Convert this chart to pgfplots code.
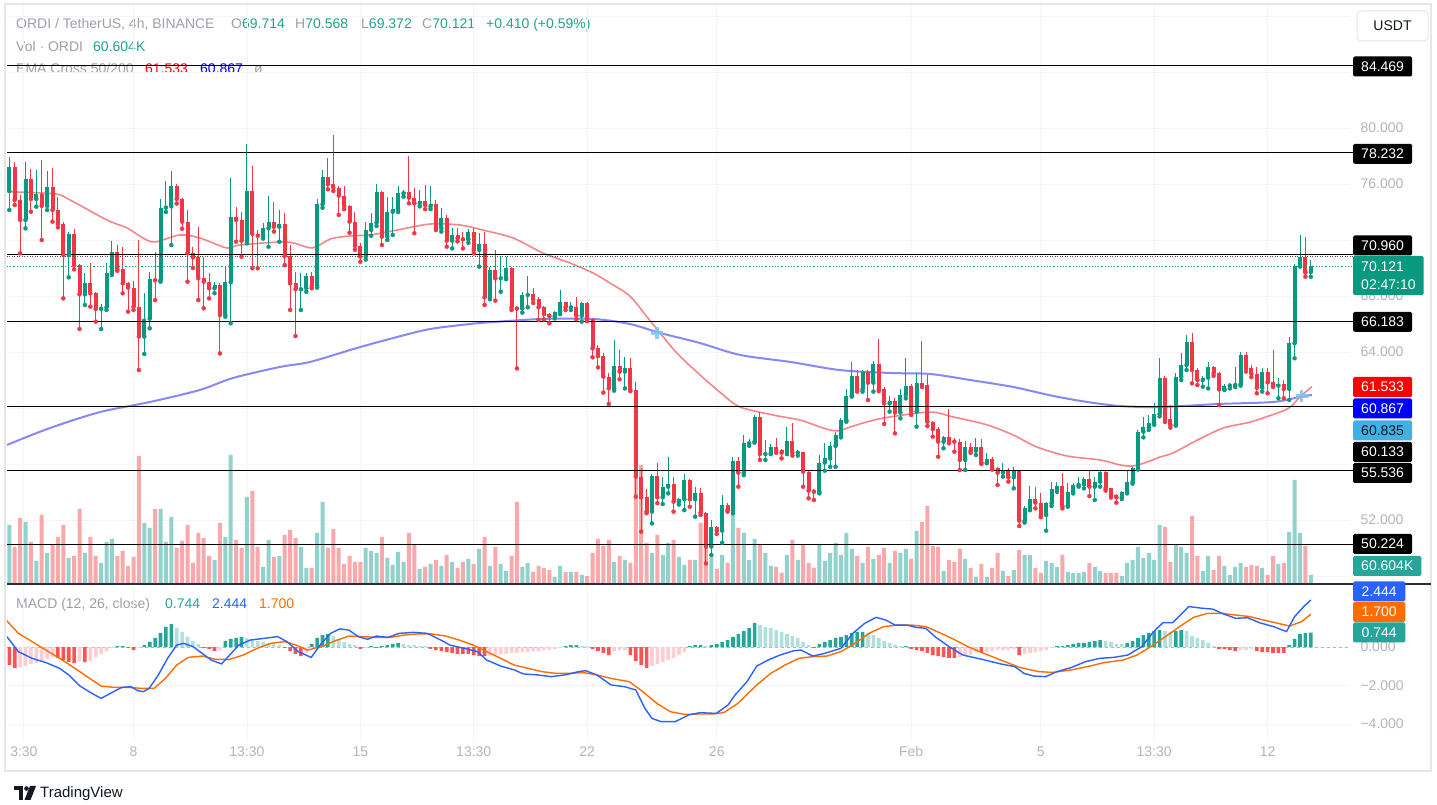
\documentclass[border=0pt]{standalone}
\usepackage{fontspec}
\setmainfont{Liberation Sans}
\usepackage{pgfplots}
\usepackage{pgfplotstable}
\pgfplotsset{compat=1.18}

\definecolor{up}{HTML}{089981}
\definecolor{dn}{HTML}{F23645}
\definecolor{vup}{HTML}{92D2CC}
\definecolor{vdn}{HTML}{F8A9AC}
\definecolor{emaA}{HTML}{F47A7E}
\definecolor{emaB}{HTML}{7474F2}
\definecolor{macdc}{HTML}{2962FF}
\definecolor{sigc}{HTML}{FF6D00}
\definecolor{hdg}{HTML}{26A69A}
\definecolor{hlg}{HTML}{B2DFDB}
\definecolor{hdr}{HTML}{FF5252}
\definecolor{hlr}{HTML}{FFCDD2}
\definecolor{txtg}{HTML}{9DA0A8}
\definecolor{scalec}{HTML}{B2B5BE}
\definecolor{gridc}{HTML}{F3F4F8}
\definecolor{framec}{HTML}{E4E6EC}
\definecolor{crossc}{HTML}{7CC4F0}
\definecolor{ink}{HTML}{131722}
\definecolor{lblue}{HTML}{3FB1E3}
\definecolor{legv}{HTML}{22A28F}
\definecolor{sepc}{HTML}{2A2E39}

\newcommand\tv{\fontsize{14}{16}\selectfont}

% 4h candles, index 0 = first candle on the left
\pgfplotstableread{
i o h l c v
0 75.50 77.95 74.14 77.24 58
1 77.24 77.60 74.50 74.86 36
2 74.86 75.20 71.05 73.43 65
3 73.43 77.60 72.83 76.33 61
4 76.33 77.05 74.02 74.93 41
5 74.93 77.00 74.38 75.29 22
6 75.29 77.71 72.00 74.43 68
7 74.43 76.93 74.14 75.81 30
8 75.81 77.12 73.31 74.14 39
9 74.14 75.10 72.90 73.14 46
10 73.14 73.30 67.83 70.93 58
11 70.93 72.60 69.33 72.43 25
12 72.43 72.76 69.90 70.19 27
13 70.19 70.30 65.64 68.12 74
14 68.12 69.62 67.36 68.90 30
15 68.90 70.38 67.24 68.19 46
16 68.19 68.30 66.17 67.07 27
17 67.07 67.40 65.64 67.19 20
18 67.19 70.33 67.00 69.64 41
19 69.64 71.95 69.50 71.17 44
20 71.17 71.64 69.80 69.93 27
21 69.93 71.52 68.19 68.90 32
22 68.90 69.00 66.88 68.60 17
23 68.60 69.07 67.00 67.24 26
24 67.24 72.00 62.71 65.10 127
25 65.10 68.19 63.86 66.38 60
26 66.38 69.74 65.69 69.19 55
27 69.19 71.17 67.70 69.12 74
28 69.12 74.90 69.02 74.31 74
29 74.31 76.20 74.00 74.40 41
30 74.40 76.93 71.64 75.86 66
31 75.86 76.00 74.60 74.93 35
32 74.93 75.00 72.80 73.31 42
33 73.31 74.14 69.02 71.05 58
34 71.05 71.50 70.00 70.76 20
35 70.76 72.95 67.71 69.26 50
36 69.26 70.81 67.12 69.02 45
37 69.02 69.62 67.83 68.55 27
38 68.55 69.00 68.20 68.79 23
39 68.79 68.90 63.90 66.64 60
40 66.64 70.10 66.52 68.98 46
41 68.98 76.40 66.05 73.62 128
42 73.62 74.38 71.88 73.43 43
43 73.43 74.02 70.81 71.95 35
44 71.95 78.86 71.76 75.50 86
45 75.50 77.29 69.98 72.43 92
46 72.43 72.71 69.98 72.30 36
47 72.30 73.19 72.10 72.83 16
48 72.83 75.14 71.52 73.26 43
49 73.26 74.74 72.60 72.95 26
50 72.95 74.14 71.88 73.17 27
51 73.17 73.90 70.21 70.86 48
52 70.86 71.64 67.00 68.90 53
53 68.90 69.74 65.14 68.48 45
54 68.48 69.62 67.00 68.55 36
55 68.55 69.67 68.30 69.43 15
56 69.43 69.70 68.55 68.74 15
57 68.74 74.90 68.60 74.55 50
58 74.55 77.00 74.30 76.48 81
59 76.48 77.83 75.62 75.98 35
60 75.98 79.50 75.50 75.74 54
61 75.74 75.88 73.79 75.17 35
62 75.17 75.86 74.20 74.43 19
63 74.43 74.50 72.52 73.31 27
64 73.31 74.02 71.30 71.57 21
65 71.57 71.80 70.45 70.81 21
66 70.81 73.31 70.60 72.71 35
67 72.71 73.90 72.30 73.24 32
68 73.24 76.00 73.00 75.45 30
69 75.45 75.50 71.64 72.24 46
70 72.24 75.10 72.00 74.02 25
71 74.02 75.10 72.36 74.19 18
72 74.19 75.86 74.00 75.33 31
73 75.33 75.57 75.10 75.40 21
74 75.40 78.02 74.62 75.02 50
75 75.02 75.69 72.48 74.62 38
76 74.62 75.57 74.40 74.79 14
77 74.79 75.93 74.20 74.50 16
78 74.40 75.86 74.20 74.55 19
79 74.55 74.86 72.71 72.83 23
80 72.83 74.26 72.60 73.60 17
81 73.60 73.79 71.52 71.95 28
82 71.95 72.83 71.40 72.36 21
83 72.36 72.83 71.90 72.12 15
84 72.12 72.60 71.40 72.05 21
85 72.05 72.80 71.80 72.60 24
86 72.60 72.83 71.05 71.29 19
87 71.29 72.48 70.10 71.71 34
88 71.71 72.60 67.36 67.90 46
89 67.90 70.10 67.76 69.86 17
90 69.86 71.29 67.67 69.26 36
91 69.26 70.76 68.31 69.30 19
92 69.30 70.76 69.20 69.98 12
93 69.98 70.10 67.00 67.19 27
94 67.19 67.30 62.83 67.10 81
95 67.10 68.31 66.81 68.07 16
96 68.07 69.43 67.19 68.12 20
97 68.12 68.55 67.50 67.76 11
98 67.76 67.90 66.29 67.19 17
99 67.19 67.30 66.33 66.71 15
100 66.71 66.81 66.05 66.57 13
101 66.57 66.95 66.40 66.88 6
102 66.88 68.43 66.70 67.55 17
103 67.55 67.60 67.00 67.19 11
104 67.19 67.60 67.00 67.22 11
105 67.22 67.90 66.33 66.60 11
106 66.60 67.60 66.17 67.48 8
107 67.48 67.60 66.20 66.33 7
108 66.33 66.45 63.62 64.26 30
109 64.26 64.50 62.90 63.71 44
110 63.71 63.90 61.10 62.24 37
111 62.24 62.50 60.29 61.40 43
112 61.40 64.86 61.24 63.02 21
113 63.02 64.14 62.05 62.60 27
114 62.60 63.67 61.40 62.88 23
115 62.88 63.60 61.20 61.29 20
116 61.29 61.83 53.67 55.10 143
117 55.10 55.69 51.17 53.62 118
118 53.62 54.19 52.48 52.60 40
119 52.60 55.30 51.76 55.14 30
120 55.14 56.10 53.20 53.62 48
121 53.62 55.10 53.14 54.38 28
122 54.38 56.48 53.90 54.55 40
123 54.55 55.10 52.60 53.31 43
124 53.31 53.60 53.10 53.48 26
125 53.48 55.29 52.70 54.86 18
126 54.86 54.90 52.95 53.48 23
127 53.48 54.38 52.24 53.90 23
128 53.90 54.26 52.36 52.52 60
129 52.52 52.60 48.90 50.10 55
130 50.10 52.00 49.50 51.48 26
131 51.48 51.60 51.00 51.24 14
132 51.24 53.79 50.38 53.07 28
133 53.07 53.20 52.60 52.71 20
134 52.71 56.52 52.48 56.24 74
135 56.24 56.52 54.38 55.38 55
136 55.38 58.07 55.20 57.48 50
137 57.48 57.80 57.30 57.60 23
138 57.60 59.50 57.52 59.38 44
139 59.38 59.74 56.29 56.71 39
140 56.71 57.71 56.29 56.76 30
141 56.76 57.40 56.70 57.24 17
142 57.24 57.83 56.80 57.00 16
143 57.00 57.10 56.40 56.81 10
144 56.81 58.62 56.70 57.67 28
145 57.67 58.90 56.60 56.81 43
146 56.81 57.00 56.60 56.85 23
147 56.85 56.88 54.38 55.45 38
148 55.45 55.50 53.55 54.10 20
149 54.10 54.20 53.43 54.02 15
150 54.02 56.64 53.90 56.10 39
151 56.10 57.48 55.52 56.40 22
152 56.40 57.60 55.80 57.29 30
153 57.29 58.31 55.80 58.07 40
154 58.07 59.30 57.90 59.14 28
155 59.14 61.33 59.02 60.86 50
156 60.86 63.31 60.81 62.29 34
157 62.29 62.71 61.17 61.33 27
158 61.33 62.71 61.17 62.60 20
159 62.60 62.70 60.57 61.81 36
160 61.81 63.38 61.17 63.12 24
161 63.12 64.90 61.20 61.33 28
162 61.33 61.50 58.86 60.33 35
163 60.33 60.86 59.74 60.50 20
164 60.50 60.69 58.19 59.67 32
165 59.67 61.33 59.26 60.93 30
166 60.93 63.55 60.69 61.57 34
167 61.57 61.70 59.50 59.74 24
168 59.74 62.48 58.67 61.81 52
169 61.81 64.81 61.50 61.64 61
170 61.64 62.36 58.71 59.02 77
171 59.02 59.10 57.95 58.48 37
172 58.48 58.67 56.52 57.60 36
173 57.60 58.00 57.12 57.90 12
174 57.90 59.90 57.48 57.67 23
175 57.67 57.83 56.88 57.60 21
176 57.60 57.76 55.57 56.29 34
177 56.29 57.67 55.57 57.19 24
178 57.19 57.52 56.80 56.95 15
179 56.95 57.83 56.64 57.24 6
180 57.24 57.76 56.00 56.10 19
181 56.10 56.76 56.05 56.33 6
182 56.33 56.52 55.60 55.69 15
183 55.69 55.80 54.50 55.38 30
184 55.38 56.10 55.10 55.57 12
185 55.57 55.70 54.74 55.05 7
186 55.05 55.81 54.26 55.52 13
187 55.52 55.57 51.57 51.95 33
188 51.95 53.00 51.81 52.83 28
189 52.83 54.43 52.70 53.48 28
190 53.48 54.38 52.83 53.24 15
191 53.24 53.95 52.20 52.36 10
192 52.36 53.30 51.24 53.19 22
193 53.19 54.74 53.00 54.19 20
194 54.19 54.74 54.00 54.43 16
195 54.43 55.38 52.83 53.00 28
196 53.00 54.67 52.95 54.02 11
197 54.02 54.67 53.90 54.50 10
198 54.50 55.10 54.38 54.55 10
199 54.55 55.10 54.26 54.90 11
200 54.90 55.57 53.71 54.38 20
201 54.38 55.10 53.43 54.74 16
202 54.74 55.60 54.38 55.45 12
203 55.45 55.52 54.10 54.26 10
204 54.26 54.30 53.60 53.79 10
205 53.79 53.85 53.24 53.62 10
206 53.62 54.10 53.50 54.02 7
207 54.02 55.57 53.90 54.74 20
208 54.74 55.80 54.60 55.69 23
209 55.69 58.40 55.60 58.31 36
210 58.31 59.38 57.90 58.62 25
211 58.62 59.50 58.43 58.95 30
212 58.95 60.33 58.80 59.57 23
213 59.57 63.55 59.40 62.12 58
214 62.12 62.30 59.00 59.19 56
215 59.19 60.21 58.60 58.79 21
216 58.79 62.48 58.74 62.24 38
217 62.24 63.90 62.00 63.07 36
218 63.07 65.21 62.71 64.74 30
219 64.74 65.38 61.76 62.71 67
220 62.71 62.83 61.64 62.00 27
221 62.00 62.30 61.52 62.17 12
222 62.17 63.31 61.40 62.95 27
223 62.95 63.00 62.30 62.48 13
224 62.48 62.60 60.21 61.33 27
225 61.33 61.71 61.29 61.60 17
226 61.60 61.76 61.40 61.64 8
227 61.64 62.95 61.50 61.70 16
228 61.70 64.02 61.60 63.79 20
229 63.79 64.02 62.60 62.83 16
230 62.83 63.07 62.20 62.43 18
231 62.43 62.95 61.05 61.45 17
232 61.45 62.83 61.17 62.60 15
233 62.60 62.83 61.05 61.83 8
234 61.83 64.14 61.50 61.60 27
235 61.60 62.12 60.70 61.71 19
236 61.71 62.00 60.70 61.36 20
237 61.36 65.10 60.57 64.62 51
238 64.62 70.30 63.55 70.14 103
239 70.14 72.36 70.10 70.76 50
240 70.76 72.24 69.38 69.67 37
241 69.714 70.568 69.372 70.121 8
}\candles

% MACD histogram: value, class (0 up-rising, 1 up-falling, 2 down-falling, 3 down-rising)
\pgfplotstableread{
i m k
0 -0.94 2
1 -1.09 2
2 -1.04 3
3 -0.99 3
4 -0.88 3
5 -0.83 3
6 -0.73 3
7 -0.62 3
8 -0.52 3
9 -0.57 2
10 -0.68 2
11 -0.78 2
12 -0.83 2
13 -0.73 3
14 -0.78 2
15 -0.73 3
16 -0.52 3
17 -0.36 3
18 -0.21 3
19 -0.05 3
20 0.05 0
21 0.05 0
22 -0.05 2
23 -0.16 2
24 -0.05 3
25 0.10 0
26 0.26 0
27 0.47 0
28 0.73 0
29 1.04 0
30 1.19 0
31 0.99 1
32 0.78 1
33 0.52 1
34 0.31 1
35 0.16 1
36 -0.05 2
37 -0.10 2
38 -0.21 2
39 -0.16 3
40 0.31 0
41 0.42 0
42 0.47 0
43 0.52 0
44 0.47 1
45 0.36 1
46 0.31 1
47 0.26 1
48 0.21 1
49 0.16 1
50 0.10 1
51 -0.05 2
52 -0.21 2
53 -0.36 2
54 -0.47 2
55 -0.31 3
56 0.16 0
57 0.47 0
58 0.62 0
59 0.68 0
60 0.57 1
61 0.42 1
62 0.26 1
63 0.16 1
64 0.10 1
65 -0.10 2
66 -0.05 3
67 0.05 0
68 -0.05 2
69 0.05 0
70 0.10 0
71 0.16 0
72 0.21 0
73 0.16 1
74 0.10 1
75 0.10 1
76 0.05 1
77 0.05 1
78 -0.10 2
79 -0.16 2
80 -0.21 2
81 -0.26 2
82 -0.31 2
83 -0.36 2
84 -0.36 2
85 -0.36 2
86 -0.42 2
87 -0.47 2
88 -0.47 2
89 -0.42 3
90 -0.42 3
91 -0.36 3
92 -0.36 3
93 -0.31 3
94 -0.31 3
95 -0.26 3
96 -0.26 3
97 -0.21 3
98 -0.21 3
99 -0.16 3
100 -0.16 3
101 -0.10 3
102 -0.05 3
103 0.05 0
104 0.10 0
105 0.10 0
106 0.05 1
107 0.05 1
108 -0.10 2
109 -0.21 2
110 -0.31 2
111 -0.42 2
112 -0.21 3
113 -0.16 3
114 -0.16 3
115 -0.42 2
116 -0.73 2
117 -0.94 2
118 -1.09 2
119 -0.99 3
120 -0.88 3
121 -0.78 3
122 -0.68 3
123 -0.57 3
124 -0.42 3
125 -0.26 3
126 0.05 0
127 0.10 0
128 0.10 0
129 0.05 1
130 0.10 0
131 0.16 0
132 0.26 0
133 0.36 0
134 0.52 0
135 0.68 0
136 0.83 0
137 0.99 0
138 1.25 0
139 1.14 1
140 1.04 1
141 0.99 1
142 0.88 1
143 0.78 1
144 0.68 1
145 0.57 1
146 0.47 1
147 0.26 1
148 0.10 1
149 -0.05 2
150 0.16 0
151 0.26 0
152 0.36 0
153 0.47 0
154 0.52 0
155 0.62 0
156 0.73 0
157 0.78 0
158 0.78 0
159 0.73 1
160 0.62 1
161 0.47 1
162 0.31 1
163 0.21 1
164 0.10 1
165 0.05 1
166 0.05 0
167 -0.10 2
168 -0.16 2
169 -0.21 2
170 -0.31 2
171 -0.42 2
172 -0.47 2
173 -0.52 2
174 -0.57 2
175 -0.57 2
176 -0.52 3
177 -0.47 3
178 -0.42 3
179 -0.26 3
180 -0.31 2
181 -0.26 3
182 -0.21 3
183 -0.16 3
184 -0.16 3
185 -0.16 3
186 -0.10 3
187 -0.42 2
188 -0.36 3
189 -0.31 3
190 -0.26 3
191 -0.21 3
192 -0.16 3
193 -0.05 3
194 0.05 0
195 0.05 0
196 0.10 0
197 0.16 0
198 0.21 0
199 0.21 0
200 0.26 0
201 0.31 0
202 0.36 0
203 0.31 1
204 0.26 1
205 0.16 1
206 0.16 1
207 0.21 0
208 0.31 0
209 0.47 0
210 0.62 0
211 0.73 0
212 0.83 0
213 0.88 0
214 0.83 1
215 0.78 1
216 0.83 0
217 0.88 0
218 0.83 1
219 0.57 1
220 0.47 1
221 0.36 1
222 0.21 1
223 0.05 1
224 -0.10 2
225 -0.10 2
226 -0.16 2
227 -0.21 2
228 -0.16 3
229 -0.16 3
230 -0.10 3
231 -0.21 2
232 -0.26 2
233 -0.26 2
234 -0.31 2
235 -0.31 2
236 -0.31 2
237 0.10 0
238 0.42 0
239 0.68 0
240 0.73 0
241 0.744 0
}\hist

\pgfplotsset{
  pane/.style={at={(7pt,222pt)}, anchor=south west, scale only axis,
    width=1343pt, height=578pt, xmin=-0.426, xmax=248.26},
  bare/.style={axis line style={draw=none}, tick style={draw=none}},
}

\begin{document}
\begin{tikzpicture}[x=1pt,y=1pt]
\useasboundingbox (0,0) rectangle (1437,805);
\fill[white] (0,0) rectangle (1437,805);
\draw[framec, line width=1.2pt] (5,801) rectangle (1431,34);

% legend
\node[anchor=base west, inner sep=0pt, text=txtg] at (16,776) {\tv ORDI / TetherUS, 4h, BINANCE};
\node[anchor=base west, inner sep=0pt] at (231,776) {\tv\color{txtg}O\color{legv}69.714};
\node[anchor=base west, inner sep=0pt] at (295,776) {\tv\color{txtg}H\color{legv}70.568};
\node[anchor=base west, inner sep=0pt] at (361,776) {\tv\color{txtg}L\color{legv}69.372};
\node[anchor=base west, inner sep=0pt] at (422,776) {\tv\color{txtg}C\color{legv}70.121};
\node[anchor=base west, inner sep=0pt, text=legv] at (486,776) {\tv +0.410 (+0.59\%)};
\node[anchor=base west, inner sep=0pt, text=txtg] at (16,753) {\tv Vol · ORDI};
\node[anchor=base west, inner sep=0pt, text=legv] at (93,753) {\tv 60.604K};
\node[anchor=base west, inner sep=0pt, text=txtg] at (16,731) {\tv EMA Cross 50/200};
\node[anchor=base west, inner sep=0pt, text=red] at (145,731) {\tv 61.533};
\node[anchor=base west, inner sep=0pt, text=blue] at (200,731) {\tv 60.867};
\node[anchor=base west, inner sep=0pt, text=txtg] at (254,731) {\tv ø};
\node[anchor=base west, inner sep=0pt, text=txtg] at (16,196) {\tv MACD (12, 26, close)};
\node[anchor=base west, inner sep=0pt, text=hdg] at (165,196) {\tv 0.744};
\node[anchor=base west, inner sep=0pt, text=macdc] at (212,196) {\tv 2.444};
\node[anchor=base west, inner sep=0pt, text=sigc] at (259,196) {\tv 1.700};

% volume pane (heights in pixel units) with the grid
\begin{axis}[pane, bare, ymin=0, ymax=578,
  xtick={2.7,23,44,65,86,107,131,167,191,212,233}, xticklabels={},
  ytick={7,63,119,175,231,287,343,399,455,511,567}, yticklabels={},
  xmajorgrids, ymajorgrids, grid style={gridc, line width=0.8pt}]
\addplot[ybar, bar width=4pt, bar shift=0pt, fill=vup, draw=none,
  restrict expr to domain={\thisrow{c}-\thisrow{o}}{0:100}]
  table[x=i, y=v] {\candles};
\addplot[ybar, bar width=4pt, bar shift=0pt, fill=vdn, draw=none,
  restrict expr to domain={\thisrow{c}-\thisrow{o}}{-100:-0.001}]
  table[x=i, y=v] {\candles};
\end{axis}

% price pane
\begin{axis}[pane, bare, ymin=47.5, ymax=88.786, clip=false,
  xtick=\empty,
  ytick={52,64,68,76,80},
  yticklabels={52.000,64.000,68.000,76.000,80.000},
  yticklabel pos=right,
  yticklabel style={anchor=west, xshift=7pt, font=\tv, text=scalec}]
% EMA 200
\addplot[emaB, line width=2pt, opacity=0.85, smooth] coordinates {
(-0.43,57.36) (7.54,58.57) (16.8,59.71) (26.06,60.43) (35.3,61.29) (41.4,62.14)
(50.1,62.93) (55.7,63.29) (64.4,64.29) (71.8,65.07) (77.9,65.64) (85.3,66.0)
(89.6,66.14) (98.8,66.36) (108.1,66.36) (114.9,66.0) (120.5,65.36) (127.9,64.64)
(135.3,63.79) (144.6,63.29) (153.8,62.71) (163.1,62.5) (170.5,62.43) (177.9,62.0)
(185.9,61.5) (193.3,60.86) (199.6,60.43) (205.7,60.14) (213.1,60.07) (224.2,60.29)
(234.0,60.43) (239.0,60.79) (241.2,60.93)};
% EMA 50
\addplot[emaA, line width=1.6pt, opacity=0.9, smooth] coordinates {
(-0.43,75.45) (8.46,75.29) (11.24,74.86) (18.09,73.43) (21.8,72.86) (24.76,72.14)
(27.0,71.86) (31.6,72.36) (35.3,72.14) (40.3,71.43) (42.7,71.64) (51.4,71.86)
(56.1,71.43) (59.4,72.07) (63.1,72.29) (66.8,72.36) (71.8,72.71) (77.9,73.14)
(83.5,73.07) (87.7,72.71) (93.3,72.14) (98.8,71.07) (103.8,70.36) (108.1,69.64)
(111.2,68.93) (114.9,68.0) (118.1,66.5) (120.5,65.36) (123.6,63.93) (127.9,62.36)
(132.2,60.93) (135.3,60.07) (141.4,59.5) (146.4,59.14) (150.7,58.57) (153.3,58.36)
(155.7,58.64) (159.4,59.07) (163.1,59.36) (170.5,59.71) (174.8,59.36) (181.1,58.79)
(185.9,58.07) (190.3,57.21) (195.9,56.57) (202.0,56.29) (205.7,55.93) (208.1,55.86)
(210.7,56.14) (213.1,56.5) (215.5,56.79) (220.0,57.71) (224.8,58.57) (229.8,59.0)
(235.3,59.71) (237.2,60.07) (239.0,60.79) (241.2,61.53)};
% wicks
\addplot[only marks, mark=none, color=up,
  restrict expr to domain={\thisrow{c}-\thisrow{o}}{0:100},
  error bars/.cd, y dir=plus, y explicit, error mark=none,
  error bar style={line width=1pt, color=up}]
  table[x=i, y=l, y error plus expr={\thisrow{h}-\thisrow{l}}] {\candles};
\addplot[only marks, mark=none, color=dn,
  restrict expr to domain={\thisrow{c}-\thisrow{o}}{-100:-0.001},
  error bars/.cd, y dir=plus, y explicit, error mark=none,
  error bar style={line width=1pt, color=dn}]
  table[x=i, y=l, y error plus expr={\thisrow{h}-\thisrow{l}}] {\candles};
% bodies
\addplot[only marks, mark=none, color=up,
  restrict expr to domain={\thisrow{c}-\thisrow{o}}{0:100},
  error bars/.cd, y dir=plus, y explicit, error mark=none,
  error bar style={line width=4pt, color=up}]
  table[x=i, y expr={min(\thisrow{o},\thisrow{c})},
        y error plus expr={max(abs(\thisrow{c}-\thisrow{o}),0.07)}] {\candles};
\addplot[only marks, mark=none, color=dn,
  restrict expr to domain={\thisrow{c}-\thisrow{o}}{-100:-0.001},
  error bars/.cd, y dir=plus, y explicit, error mark=none,
  error bar style={line width=4pt, color=dn}]
  table[x=i, y expr={min(\thisrow{o},\thisrow{c})},
        y error plus expr={max(abs(\thisrow{c}-\thisrow{o}),0.07)}] {\candles};
% horizontal levels
\addplot[black, line width=1.2pt] coordinates {(-0.426,84.469) (248.8,84.469)};
\addplot[black, line width=1.2pt] coordinates {(-0.426,78.232) (248.8,78.232)};
\addplot[black, line width=1.2pt] coordinates {(-0.426,70.960) (248.8,70.960)};
\addplot[black, line width=1.2pt] coordinates {(-0.426,66.183) (248.8,66.183)};
\addplot[black, line width=1.2pt] coordinates {(-0.426,60.133) (248.8,60.133)};
\addplot[black, line width=1.2pt] coordinates {(-0.426,55.536) (248.8,55.536)};
\addplot[black, line width=1.2pt] coordinates {(-0.426,50.224) (248.8,50.224)};
\addplot[black!70, line width=0.9pt, dash pattern=on 1pt off 1.5pt] coordinates {(-0.426,70.84) (248.8,70.84)};
\addplot[up, line width=1pt, dash pattern=on 1.2pt off 2pt] coordinates {(-0.426,70.121) (248.8,70.121)};
% EMA crosses
\addplot[only marks, mark=+, mark size=6pt, line width=3.5pt, color=crossc, opacity=0.85]
  coordinates {(119.9,65.36) (239.3,60.86)};
\end{axis}

% MACD pane
\begin{axis}[at={(7pt,64pt)}, anchor=south west, scale only axis,
  width=1343pt, height=155pt, xmin=-0.426, xmax=248.26,
  ymin=-4.883, ymax=3.169, bare,
  ytick={-4,-2,0}, yticklabels={−4.000,−2.000,0.000},
  yticklabel pos=right,
  yticklabel style={anchor=west, xshift=7pt, font=\tv, text=scalec},
  xtick={2.7,23,44,65,86,107,131,167,191,212,233},
  xticklabels={3:30,8,13:30,15,13:30,22,26,Feb,5,13:30,12},
  xticklabel style={font=\tv, text=scalec, yshift=-2pt},
  xmajorgrids, ymajorgrids, grid style={gridc, line width=0.8pt}]
\addplot[scalec, line width=0.9pt, dash pattern=on 3pt off 3pt] coordinates {(-0.426,0) (248.26,0)};
\addplot[ybar, bar width=3.6pt, bar shift=0pt, fill=hdg, draw=none,
  restrict expr to domain={\thisrow{k}}{0:0}] table[x=i, y=m] {\hist};
\addplot[ybar, bar width=3.6pt, bar shift=0pt, fill=hlg, draw=none,
  restrict expr to domain={\thisrow{k}}{1:1}] table[x=i, y=m] {\hist};
\addplot[ybar, bar width=3.6pt, bar shift=0pt, fill=hdr, draw=none,
  restrict expr to domain={\thisrow{k}}{2:2}] table[x=i, y=m] {\hist};
\addplot[ybar, bar width=3.6pt, bar shift=0pt, fill=hlr, draw=none,
  restrict expr to domain={\thisrow{k}}{3:3}] table[x=i, y=m] {\hist};
% signal
\addplot[sigc, line width=1.4pt] coordinates {
(-0.87,1.49) (1.68,0.71) (4.23,0.28) (6.78,-0.16) (9.33,-0.59) (11.9,-1.06) (14.4,-1.54)
(17.0,-2.03) (19.5,-2.10) (22.1,-2.10) (24.6,-2.15) (26.8,-2.15) (28.9,-1.63) (31.0,-0.94)
(33.1,-0.54) (35.7,-0.47) (38.2,-0.64) (40.8,-0.64) (43.3,-0.42) (45.9,-0.07) (48.4,0.19)
(51.0,0.28) (53.1,0.10) (55.2,-0.16) (57.8,0.02) (60.4,0.33) (62.9,0.57) (65.4,0.54)
(68.0,0.50) (70.6,0.50) (73.1,0.62) (75.6,0.68) (78.2,0.68) (80.8,0.57) (83.3,0.36)
(85.9,0.10) (88.4,-0.24) (91.0,-0.59) (93.5,-0.94) (96.1,-1.11) (98.6,-1.28) (101.2,-1.37)
(103.7,-1.37) (106.3,-1.33) (108.8,-1.45) (111.4,-1.63) (114.8,-1.80) (117.3,-2.32)
(119.9,-2.93) (122.4,-3.36) (125.0,-3.50) (127.9,-3.48) (130.1,-3.48) (132.3,-3.41)
(134.9,-2.93) (138.4,-1.97) (141.0,-1.37) (143.6,-0.94) (146.2,-0.59) (148.8,-0.50)
(151.4,-0.47) (154.0,-0.24) (156.6,0.19) (159.2,0.71) (161.9,1.06) (164.5,1.14)
(167.1,1.14) (169.7,1.06) (172.3,0.74) (174.9,0.40) (177.5,0.02) (180.1,-0.29)
(183.6,-0.68) (187.1,-1.06) (190.6,-1.28) (193.2,-1.32) (196.7,-1.19) (200.1,-0.99)
(202.7,-0.81) (206.2,-0.68) (208.8,-0.42) (211.4,0.02) (214.1,0.54) (216.7,1.06)
(219.3,1.54) (221.9,1.75) (224.5,1.75) (227.1,1.66) (229.7,1.58) (232.3,1.40)
(234.9,1.23) (237.1,1.09) (239.3,1.32) (241.0,1.70)};
% MACD
\addplot[macdc, line width=1.4pt] coordinates {
(-0.45,0.54) (1.68,-0.24) (4.23,-0.59) (6.78,-0.81) (9.33,-1.11) (11.0,-1.45) (13.1,-2.03)
(15.3,-2.41) (17.0,-2.67) (18.7,-2.41) (20.8,-2.10) (22.5,-2.06) (23.8,-2.27) (24.8,-2.32)
(25.9,-2.15) (27.6,-1.45) (29.3,-0.59) (31.0,0.10) (32.3,0.19) (34.0,0.02) (35.7,-0.33)
(37.4,-0.68) (39.3,-0.88) (40.8,-0.42) (42.5,0.10) (44.6,0.36) (47.2,0.45) (49.7,0.54)
(51.4,0.28) (53.5,-0.24) (55.9,-0.54) (57.8,0.19) (59.5,0.71) (61.2,0.94) (62.9,0.88)
(64.6,0.54) (66.3,0.40) (68.0,0.57) (70.1,0.50) (72.2,0.71) (74.8,0.76) (77.4,0.71)
(79.9,0.36) (81.6,0.10) (84.2,-0.07) (86.7,-0.24) (88.4,-0.68) (91.0,-0.99) (93.5,-1.19)
(95.2,-1.40) (97.8,-1.45) (100.3,-1.54) (102.9,-1.45) (105.4,-1.28) (106.7,-1.23)
(108.8,-1.45) (111.4,-1.97) (113.9,-2.06) (116.0,-2.23) (117.7,-3.19) (119.0,-3.71)
(120.7,-3.88) (123.3,-3.88) (125.8,-3.53) (127.9,-3.41) (130.9,-3.45) (133.1,-3.01)
(134.4,-2.49) (136.6,-1.80) (138.4,-0.99) (140.5,-0.68) (142.7,-0.42) (145.3,-0.19)
(146.6,-0.16) (148.8,-0.47) (151.0,-0.33) (154.0,-0.07) (156.2,0.71) (158.4,1.23)
(160.5,1.54) (162.3,1.40) (164.0,1.14) (166.2,1.14) (167.9,1.02) (169.7,0.97)
(171.4,0.54) (174.0,0.02) (176.6,-0.42) (180.1,-0.64) (183.6,-0.88) (186.2,-1.02)
(187.9,-1.37) (189.7,-1.51) (191.9,-1.54) (194.0,-1.28) (196.7,-1.06) (199.3,-0.76)
(201.9,-0.59) (204.5,-0.54) (207.1,-0.42) (209.7,0.02) (211.9,0.80) (213.6,1.26)
(215.4,1.26) (218.4,2.10) (221.0,2.01) (222.8,1.97) (224.9,1.71) (227.1,1.49)
(229.3,1.52) (231.5,1.26) (234.1,1.06) (236.5,0.80) (238.0,1.58) (239.7,2.10) (241.0,2.444)};
\end{axis}

% pane separator
\draw[sepc, line width=1.3pt] (7,221) -- (1431,221);

% price-scale labels
\tikzset{lbl/.style={anchor=west, inner xsep=8pt, inner ysep=0pt, minimum height=20pt,
  text=white, font=\tv, rounded corners=1.5pt}}
\node[lbl, fill=black] at (1353,738.5) {84.469};
\node[lbl, fill=black] at (1353,651.2) {78.232};
\node[lbl, fill=black] at (1353,559.5) {70.960};
\node[lbl, fill=up, minimum height=39pt, align=left, inner xsep=8pt,
  font=\fontsize{14}{18}\selectfont] at (1353,529.5) {70.121\\02:47:10};
\node[lbl, fill=black] at (1353,483.2) {66.183};
\node[lbl, fill=red] at (1353,418) {61.533};
\node[lbl, fill=blue] at (1353,396.5) {60.867};
\node[lbl, fill=lblue, text=ink] at (1353,374.5) {60.835};
\node[lbl, fill=black] at (1353,353) {60.133};
\node[lbl, fill=black] at (1353,332) {55.536};
\node[lbl, fill=black] at (1353,261) {50.224};
\node[lbl, fill=hdg] at (1353,239) {60.604K};
\node[lbl, fill=macdc, inner xsep=8.5pt] at (1353,213.5) {2.444};
\node[lbl, fill=sigc, inner xsep=8.5pt] at (1353,193) {1.700};
\node[lbl, fill=hdg, inner xsep=8.5pt] at (1353,172.5) {0.744};

% currency button
\draw[framec, fill=white, rounded corners=4pt, line width=1pt] (1357,794) rectangle (1428,764);
\node[text=ink] at (1392.5,779) {\tv USDT};

% logo
\fill[ink] (14,19) rectangle (23,14.5);
\fill[ink] (18.5,19) rectangle (23,5);
\fill[ink] (26.5,16.5) circle (2.3);
\fill[ink] (30,19) -- (36,19) -- (30.5,5) -- (24.5,5) -- cycle;
\node[anchor=base west, inner sep=0pt, text=ink] at (40,7) {\fontsize{15}{17}\selectfont TradingView};
\end{tikzpicture}
\end{document}
